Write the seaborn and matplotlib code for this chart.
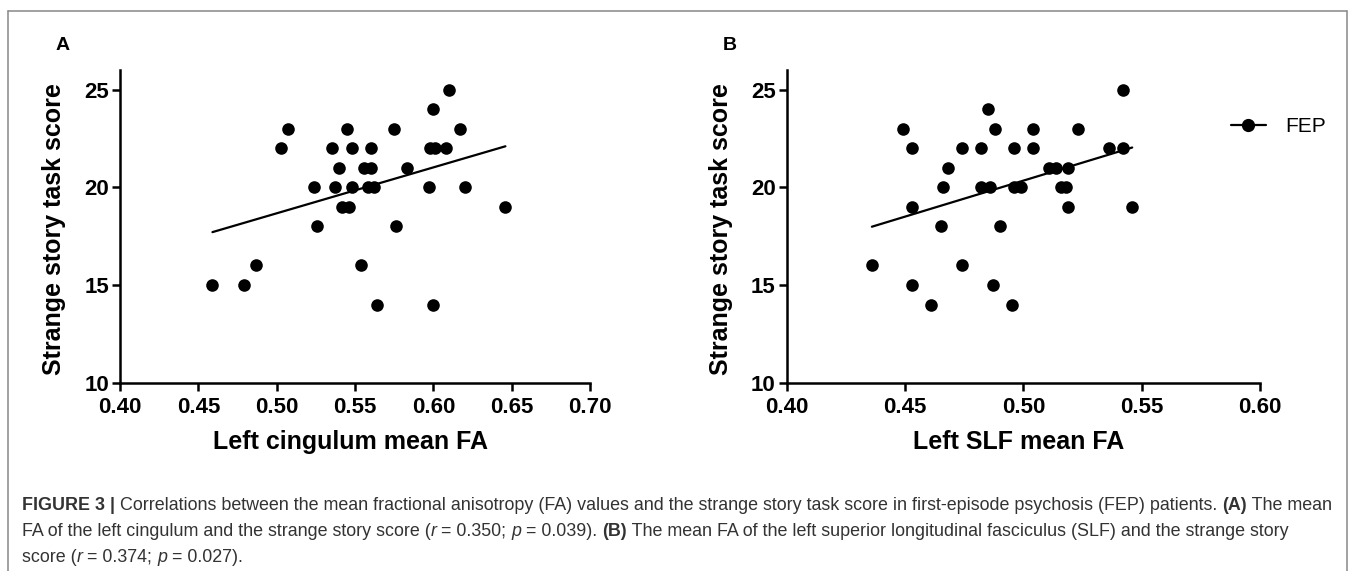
import numpy as np
import pandas as pd
import matplotlib
matplotlib.use("Agg")
import matplotlib.pyplot as plt
from matplotlib.lines import Line2D
import seaborn as sns

# === Data ===
cing_fa = [0.610, 0.600, 0.507, 0.545, 0.575, 0.617,
           0.503, 0.535, 0.548, 0.560, 0.598, 0.601, 0.608,
           0.540, 0.556, 0.560, 0.583,
           0.524, 0.537, 0.548, 0.558, 0.562, 0.597, 0.620,
           0.542, 0.546, 0.646,
           0.526, 0.576,
           0.487, 0.554,
           0.459, 0.479,
           0.564, 0.600]
cing_score = [25, 24, 23, 23, 23, 23,
              22, 22, 22, 22, 22, 22, 22,
              21, 21, 21, 21,
              20, 20, 20, 20, 20, 20, 20,
              19, 19, 19,
              18, 18,
              16, 16,
              15, 15,
              14, 14]

slf_fa = [0.542, 0.485, 0.449, 0.488, 0.504, 0.523,
          0.453, 0.474, 0.482, 0.496, 0.504, 0.536, 0.542,
          0.468, 0.511, 0.514, 0.519,
          0.466, 0.482, 0.486, 0.496, 0.499, 0.516, 0.518,
          0.453, 0.519, 0.546,
          0.465, 0.490,
          0.436, 0.474,
          0.453, 0.487,
          0.461, 0.495]
slf_score = [25, 24, 23, 23, 23, 23,
             22, 22, 22, 22, 22, 22, 22,
             21, 21, 21, 21,
             20, 20, 20, 20, 20, 20, 20,
             19, 19, 19,
             18, 18,
             16, 16,
             15, 15,
             14, 14]

y_ticks = [10, 15, 20, 25]
xticks_a = [0.40, 0.45, 0.50, 0.55, 0.60, 0.65, 0.70]
xticks_b = [0.40, 0.45, 0.50, 0.55, 0.60]

df_a = pd.DataFrame({"fa": cing_fa, "score": cing_score})
df_b = pd.DataFrame({"fa": slf_fa, "score": slf_score})

# === Style ===
sns.set_style("ticks")
plt.rcParams["font.family"] = ["Liberation Sans", "DejaVu Sans"]
plt.rcParams.update({"text.color": "black", "axes.labelcolor": "black",
                     "xtick.color": "black", "ytick.color": "black",
                     "axes.edgecolor": "black"})

W, H = 1355, 571
fig = plt.figure(figsize=(W / 100, H / 100), dpi=100)


def px_axes(left, right, top, bottom):
    return [left / W, 1 - bottom / H, (right - left) / W, (bottom - top) / H]


ax_a = fig.add_axes(px_axes(120, 590, 70, 382.7))
ax_b = fig.add_axes(px_axes(786.7, 1260, 70, 382.7))

panels = [(ax_a, df_a, xticks_a, "Left cingulum mean FA", "A"),
          (ax_b, df_b, xticks_b, "Left SLF mean FA", "B")]

for ax, df, xt, xlab, letter in panels:
    sns.regplot(data=df, x="fa", y="score", ax=ax, ci=None,
                scatter_kws=dict(s=82, color="black", linewidths=0, alpha=1),
                line_kws=dict(color="black", lw=1.6))
    ax.set_xlim(xt[0], xt[-1])
    ax.set_ylim(10, 26)
    ax.set_xticks(xt)
    ax.set_xticklabels([f"{v:.2f}" for v in xt])
    ax.set_yticks(y_ticks)
    for sp in ["top", "right"]:
        ax.spines[sp].set_visible(False)
    for sp in ["left", "bottom"]:
        ax.spines[sp].set_linewidth(1.8)
        ax.spines[sp].set_color("black")
    ax.tick_params(axis="both", length=6, width=1.8, labelsize=16, color="black",
                   labelcolor="black")
    ax.tick_params(axis="x", pad=4)
    ax.tick_params(axis="y", pad=2)
    for lbl in ax.get_xticklabels() + ax.get_yticklabels():
        lbl.set_fontweight("bold")
    ax.set_xlabel(xlab, fontsize=18, fontweight="bold", color="black")
    ax.set_ylabel("Strange story task score", fontsize=18, fontweight="bold", color="black")
    ax.xaxis.set_label_coords(0.49, -0.15)
    ax.yaxis.set_label_coords(-0.114, 0.49)
    for c in ax.collections:
        c.set_clip_on(False)

fig.text(63 / W, 1 - 45 / H, "A", fontsize=14, fontweight="bold", ha="center", va="center")
fig.text(730 / W, 1 - 45 / H, "B", fontsize=14, fontweight="bold", ha="center", va="center")

# legend
handle = Line2D([], [], color="black", lw=1.6, marker="o", markersize=8.5)
fig.legend([handle], ["FEP"], loc="center left", bbox_to_anchor=(1212 / W, 1 - 127 / H),
           frameon=False, fontsize=15, handlelength=1.7, handletextpad=0.9,
           labelcolor="black")

# frame around the figure
frame_col = "#888888"
fig.add_artist(Line2D([8 / W, 8 / W], [0, 1 - 11 / H], transform=fig.transFigure, color=frame_col, lw=1.1))
fig.add_artist(Line2D([8 / W, 1347 / W], [1 - 11 / H, 1 - 11 / H], transform=fig.transFigure, color=frame_col, lw=1.1))
fig.add_artist(Line2D([1347 / W, 1347 / W], [0, 1 - 11 / H], transform=fig.transFigure, color=frame_col, lw=1.1))

# caption, drawn run by run
cap_col = "#333333"
cap_size = 12.9
caption = [
    [("FIGURE 3 | ", "bold", "normal"),
     ("Correlations between the mean fractional anisotropy (FA) values and the strange story task score "
      "in first-episode psychosis (FEP) patients. ", "normal", "normal"),
     ("(A)", "bold", "normal"), (" The mean", "normal", "normal")],
    [("FA of the left cingulum and the strange story score (", "normal", "normal"),
     ("r", "normal", "italic"), (" = 0.350; ", "normal", "normal"),
     ("p", "normal", "italic"), (" = 0.039). ", "normal", "normal"),
     ("(B)", "bold", "normal"),
     (" The mean FA of the left superior longitudinal fasciculus (SLF) and the strange story",
      "normal", "normal")],
    [("score (", "normal", "normal"), ("r", "normal", "italic"),
     (" = 0.374; ", "normal", "normal"), ("p", "normal", "italic"),
     (" = 0.027).", "normal", "normal")],
]
baselines = [510, 536, 562]

renderer = fig.canvas.get_renderer()
for runs, yb in zip(caption, baselines):
    x = 21.7
    for txt, weight, style in runs:
        t = fig.text(x / W, 1 - yb / H, txt, fontsize=cap_size, fontweight=weight,
                     fontstyle=style, color=cap_col, ha="left", va="baseline")
        bb = t.get_window_extent(renderer)
        x = bb.x1

fig.savefig("out.png", dpi=100)
